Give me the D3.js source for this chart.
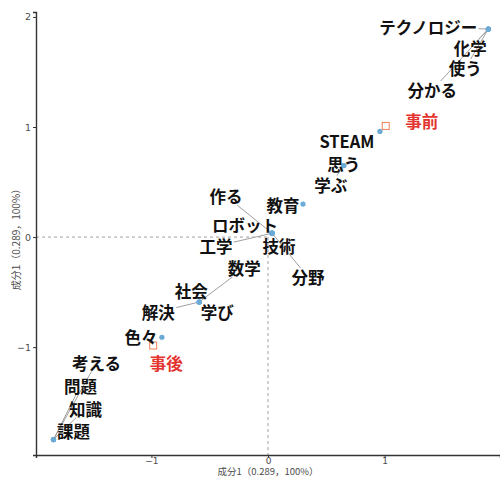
<!DOCTYPE html>
<html>
<head>
<meta charset="utf-8">
<script src="https://cdn.jsdelivr.net/npm/d3@7"></script>
<style>
  html, body { margin: 0; padding: 0; background: #fff; }
  svg { display: block; }
</style>
</head>
<body>
<svg id="chart" width="500" height="478"></svg>
<script>
// Correspondence analysis, component 1 only: words and the two survey
// variables are placed at (score, score).
const words = ["テクノロジー", "化学", "使う", "分かる", "STEAM", "思う", "学ぶ", "教育",
  "作る", "ロボット", "工学", "技術", "分野", "数学", "社会", "解決", "学び", "色々",
  "考える", "問題", "知識", "課題"];
const wordScores = [1.89, 1.89, 1.89, 1.89, 0.96, 0.65, 0.65, 0.30,
  0.035, 0.035, 0.035, 0.035, 0.035, -0.59, -0.59, -0.59, -0.59, -0.91,
  -1.84, -1.84, -1.84, -1.84];
const groups = ["事前", "事後"];
const groupScores = [1.01, -0.985];
const ticks = [-1, 0, 1];
const yTicks = [-1, 0, 1, 2];
const axisTitle = "成分1（0.289，100%）";

// Label placement (pixel offsets from each point), repelled layout
const wordLabelOffsets = [[-60, -2], [-18, 19], [-23, 39], [-56, 61], [-33, 10], [0, -2], [-13, 19], [-20, 1],
  [-46, -37], [-27, -8], [-56, 13], [7, 13], [36, 44], [45, -34], [-8, -11], [-41, 10], [18, 10], [-21, 0],
  [43, -77], [27, -54], [32, -31], [20, -9]];
const groupLabelOffsets = [[36, -5], [13, 18]];

(function () {
  const svg = d3.select("#chart");
  const plotLeft = 36, plotRight = 500, plotTop = 12, plotBottom = 455;
  const x = d3.scaleLinear().domain([-1.99, 1.99]).range([plotLeft, plotRight]);
  const y = d3.scaleLinear().domain([-1.98, 2.045]).range([plotBottom, plotTop]);

  const font = "'Noto Sans CJK JP', 'Noto Sans', sans-serif";
  const tickFont = "'DejaVu Sans', sans-serif";

  // origin guides, running from the axes to the origin
  svg.append("line").attr("x1", x(0)).attr("x2", x(0)).attr("y1", y(0)).attr("y2", plotBottom)
    .attr("stroke", "#777").attr("stroke-width", 0.7).attr("stroke-dasharray", "3,3");
  svg.append("line").attr("x1", plotLeft).attr("x2", x(0)).attr("y1", y(0)).attr("y2", y(0))
    .attr("stroke", "#777").attr("stroke-width", 0.7).attr("stroke-dasharray", "3,3");

  // axes
  const xAxis = svg.append("g").attr("transform", `translate(0,${plotBottom})`)
    .call(d3.axisBottom(x).tickValues(ticks).tickFormat(d3.format("d")).tickSizeOuter(0).tickSize(3));
  const yAxis = svg.append("g").attr("transform", `translate(${plotLeft},0)`)
    .call(d3.axisLeft(y).tickValues(yTicks).tickFormat(d3.format("d")).tickSizeOuter(0).tickSize(3).tickPadding(2));
  [xAxis, yAxis].forEach(g => {
    g.select(".domain").attr("stroke", "#333").attr("stroke-width", 1.4);
    g.selectAll(".tick line").attr("stroke", "#333");
    g.selectAll(".tick text").attr("fill", "#4d4d4d").style("font-size", "9.5px").style("font-family", tickFont);
  });
  xAxis.selectAll(".tick text").style("font-size", "9px")
    .attr("y", 5.5).attr("dy", null).attr("dominant-baseline", "central");

  svg.append("text").attr("x", x(0)).attr("y", 471.3).attr("text-anchor", "middle")
    .attr("dominant-baseline", "central")
    .style("font-size", "9.5px").style("font-family", font).attr("fill", "#4d4d4d").text(axisTitle);
  svg.append("text").attr("transform", `translate(15,${y(0)}) rotate(-90)`).attr("text-anchor", "middle")
    .attr("dominant-baseline", "central")
    .style("font-size", "10px").style("font-family", font).attr("fill", "#4d4d4d").text(axisTitle);

  // assemble label items
  const items = words.map((w, i) => ({ text: w, v: wordScores[i], off: wordLabelOffsets[i], group: false }))
    .concat(groups.map((g, i) => ({ text: g, v: groupScores[i], off: groupLabelOffsets[i], group: true })));

  const segLayer = svg.append("g");
  const markLayer = svg.append("g");
  const labelLayer = svg.append("g");

  // labels first so that their boxes can be measured for connector segments
  items.forEach(d => {
    d.px = x(d.v); d.py = y(d.v);
    d.lx = d.px + d.off[0]; d.ly = d.py + d.off[1];
    const t = labelLayer.append("text")
      .attr("x", d.lx).attr("y", d.ly)
      .attr("text-anchor", "middle").attr("dominant-baseline", "central")
      .style("font-family", font).style("font-weight", "bold").style("font-size", "16.5px")
      .attr("fill", d.group ? "#e3342f" : "#111")
      .text(d.text);
    d.bb = t.node().getBBox();
  });

  // connector segments from word point to label box edge
  items.filter(d => !d.group).forEach(d => {
    const pad = 1;
    const b = { x0: d.bb.x - pad, x1: d.bb.x + d.bb.width + pad, y0: d.bb.y + 3, y1: d.bb.y + d.bb.height - 3 };
    const dx = d.px - d.lx, dy = d.py - d.ly;
    let t = 1;
    if (dx !== 0) t = Math.min(t, (dx > 0 ? b.x1 - d.lx : b.x0 - d.lx) / dx);
    if (dy !== 0) t = Math.min(t, (dy > 0 ? b.y1 - d.ly : b.y0 - d.ly) / dy);
    if (t >= 1) return;
    const ex = d.lx + dx * t, ey = d.ly + dy * t;
    if (Math.hypot(d.px - ex, d.py - ey) < 7) return;
    segLayer.append("line").attr("x1", d.px).attr("y1", d.py).attr("x2", ex).attr("y2", ey)
      .attr("stroke", "#a0a0a0").attr("stroke-width", 1);
  });

  // points
  markLayer.selectAll("circle").data(items.filter(d => !d.group)).join("circle")
    .attr("cx", d => d.px).attr("cy", d => d.py).attr("r", 2.6).attr("fill", "#6aaad4");
  markLayer.selectAll("rect").data(items.filter(d => d.group)).join("rect")
    .attr("x", d => d.px - 3.5).attr("y", d => d.py - 3.5).attr("width", 7).attr("height", 7)
    .attr("fill", "#fff").attr("stroke", "#f0805a").attr("stroke-width", 1);
})();
</script>
</body>
</html>
